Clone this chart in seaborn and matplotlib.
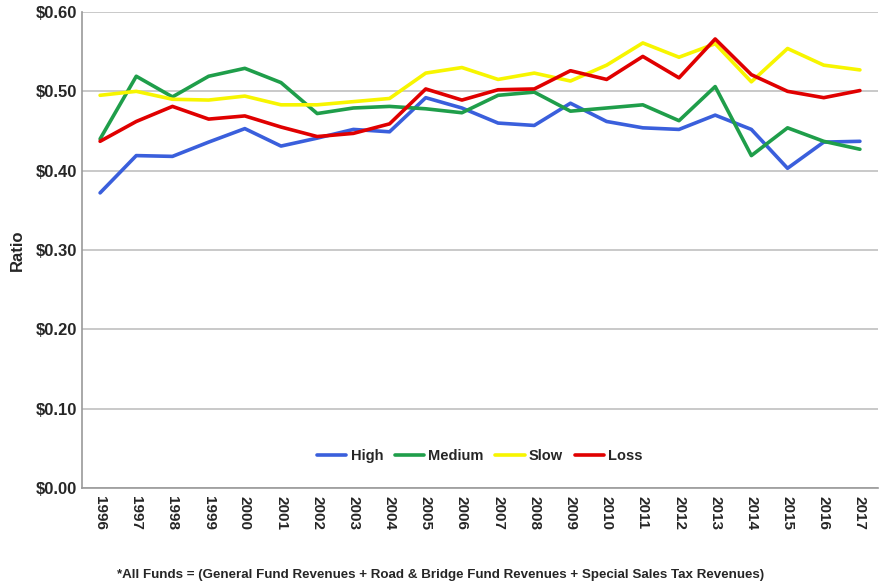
import matplotlib
matplotlib.use("Agg")
import matplotlib.pyplot as plt
import numpy as np
import pandas as pd
import seaborn as sns
from matplotlib.ticker import FuncFormatter

years = list(range(1996, 2018))
high = [0.372, 0.419, 0.418, 0.436, 0.453, 0.431, 0.441, 0.452, 0.449, 0.492, 0.479,
        0.460, 0.457, 0.485, 0.462, 0.454, 0.452, 0.470, 0.452, 0.403, 0.436, 0.437]
medium = [0.440, 0.519, 0.493, 0.519, 0.529, 0.511, 0.472, 0.479, 0.481, 0.478, 0.473,
          0.495, 0.499, 0.475, 0.479, 0.483, 0.463, 0.506, 0.419, 0.454, 0.437, 0.427]
slow = [0.495, 0.500, 0.490, 0.489, 0.494, 0.483, 0.483, 0.487, 0.491, 0.523, 0.530,
        0.515, 0.523, 0.513, 0.533, 0.561, 0.543, 0.560, 0.512, 0.554, 0.533, 0.527]
loss = [0.437, 0.462, 0.481, 0.465, 0.469, 0.455, 0.443, 0.447, 0.459, 0.503, 0.489,
        0.502, 0.503, 0.526, 0.515, 0.544, 0.517, 0.566, 0.521, 0.500, 0.492, 0.501]

series = {"High": high, "Medium": medium, "Slow": slow, "Loss": loss}
colors = {"High": "#3a5fdc", "Medium": "#1f9e4a", "Slow": "#f7f500", "Loss": "#e00000"}

rows = []
for name, vals in series.items():
	for i, v in enumerate(vals):
		rows.append({"pos": i, "year": years[i], "group": name, "ratio": v})
df = pd.DataFrame(rows)

sns.set_style("white")
plt.rcParams['font.family'] = ['Liberation Sans', 'DejaVu Sans']

fig = plt.figure(figsize=(8.82, 5.86), dpi=100)
ax = fig.add_axes([82 / 882, 1 - 488 / 586, (878 - 82) / 882, (488 - 12) / 586])

sns.lineplot(data=df, x="pos", y="ratio", hue="group", palette=colors,
             linewidth=2.6, ax=ax, legend=True)

ax.set_xlim(-0.5, len(years) - 0.5)
ax.set_ylim(0, 0.6)
ax.set_yticks(np.arange(0, 0.61, 0.1))
ax.yaxis.set_major_formatter(FuncFormatter(lambda v, p: "${:.2f}".format(v)))
ax.yaxis.grid(True, color="#c0c0c0", linewidth=1.2)
ax.set_axisbelow(True)

ax.set_xticks(range(len(years)))
ax.set_xticklabels([str(y) for y in years], rotation=270, fontweight="bold", fontsize=11)
ax.set_xticks(np.arange(-0.5, len(years), 1), minor=True)
ax.tick_params(axis="x", which="major", length=0, pad=6)
ax.tick_params(axis="x", which="minor", length=5, color="#999999", width=1, direction="out")
ax.tick_params(axis="y", length=0, labelsize=12)
for lab in ax.get_yticklabels():
	lab.set_fontweight("bold")

for s in ["top", "right"]:
	ax.spines[s].set_visible(False)
for s in ["left", "bottom"]:
	ax.spines[s].set_color("#999999")
	ax.spines[s].set_linewidth(1.2)

ax.set_xlabel("")
ax.set_ylabel("Ratio", fontweight="bold", fontsize=12, labelpad=8)

leg = ax.legend(loc="lower center", bbox_to_anchor=(0.5, 0.025), ncol=4, frameon=False,
                handlelength=2.0, columnspacing=0.8, handletextpad=0.3,
                prop={"weight": "bold", "size": 10.5})

fig.text(0.5, 1 - 575 / 586, "*All Funds = (General Fund Revenues + Road & Bridge Fund Revenues + Special Sales Tax Revenues)",
         ha="center", va="center", fontweight="bold", fontsize=9.6)

plt.savefig("out.png", dpi=100)
